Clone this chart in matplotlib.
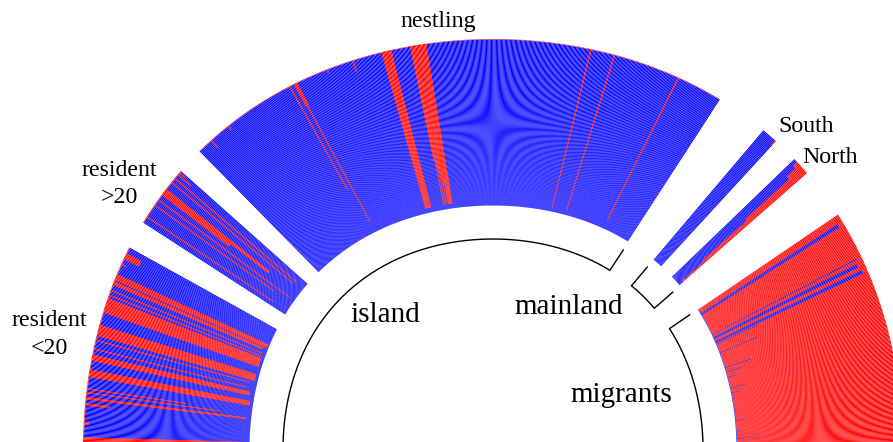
import numpy as np
import matplotlib
matplotlib.use("Agg")
import matplotlib.pyplot as plt

# bars per group, clockwise from the left
group_names = ["resident <20", "resident >20", "nestling", "South", "North", "migrants"]
group_counts = [170, 50, 438, 13, 15, 199]
group_default = [0.995, 0.995, 0.997, 1.0, 1.0, 0.005]

# share of each bar that is blue, as runs of (first bar, last bar, share)
resident_young_runs = [(10, 14, 0.0), (25, 26, 0.97), (40, 41, 0.85), (45, 46, 0.03), (50, 50, 0.2),
                       (53, 53, 0.4), (63, 68, 0.02), (76, 80, 0.03), (85, 85, 0.06), (92, 92, 0.05),
                       (96, 104, 0.02), (115, 126, 0.02), (129, 129, 0.02), (133, 133, 0.02),
                       (138, 140, 0.03), (142, 146, 0.01), (155, 155, 0.97), (160, 164, 0.9)]
resident_old_runs = [(5, 5, 0.1), (16, 16, 0.13), (21, 21, 0.03), (26, 28, 0.5), (29, 31, 0.22),
                     (38, 38, 0.07), (42, 42, 0.06), (46, 46, 0.9), (48, 48, 0.95)]
nestling_runs = [(12, 12, 0.94), (29, 29, 0.97), (86, 86, 0.3), (90, 90, 0.85), (91, 91, 0.07),
                 (92, 92, 0.85), (118, 118, 0.98), (139, 139, 0.93), (163, 170, 0.03),
                 (186, 186, 0.3), (187, 187, 0.03), (188, 188, 0.25), (189, 189, 0.03), (190, 190, 0.2),
                 (191, 191, 0.03), (192, 192, 0.15), (193, 198, 0.03),
                 (329, 329, 0.03), (348, 348, 0.03), (401, 401, 0.06)]
south_runs = [(12, 12, 0.97)]
north_runs = [(3, 5, 0.97), (6, 8, 0.9), (9, 10, 0.55), (11, 12, 0.2), (13, 14, 0.03)]
migrant_runs = [(6, 8, 0.97), (37, 37, 0.97), (41, 43, 0.96), (47, 49, 0.97), (51, 51, 0.27),
                (63, 63, 0.25), (84, 84, 0.17), (90, 90, 0.1), (97, 97, 0.05), (112, 112, 0.1),
                (118, 118, 0.05), (126, 126, 0.02), (140, 140, 0.03), (155, 155, 0.06),
                (169, 169, 0.03), (179, 179, 0.14)]
group_runs = [resident_young_runs, resident_old_runs, nestling_runs, south_runs, north_runs, migrant_runs]

# angular span of each group in degrees
group_start = [181.0, 147.1, 134.6, 49.7, 43.9, 34.2]
group_stop = [151.0, 138.3, 57.0, 47.4, 41.3, -1.0]

W, H = 893, 442
CX, CY = 493, 449
R_MAX = 440
R_IN, R_OUT = 243.5, 410.0
BLUE = "#0000ff"
RED = "#ff0000"


def bulge(theta):
    return 1 + 0.02 * np.sin(2 * theta) ** 2


fig = plt.figure(figsize=(W / 100, H / 100), dpi=100)
ax = fig.add_axes([(CX - R_MAX) / W, (H - CY - R_MAX) / H, 2 * R_MAX / W, 2 * R_MAX / H], projection="polar")
ax.set_rlim(0, R_MAX)
ax.axis("off")

for count, default, runs, start, stop in zip(group_counts, group_default, group_runs, group_start, group_stop):
    share = np.full(count, default)
    for first, last, value in runs:
        share[first:last + 1] = value
    pitch = np.radians(start - stop) / count
    theta = np.radians(start) - pitch * (np.arange(count) + 0.5)
    k = bulge(theta)
    inner = R_IN * k
    span = (R_OUT - R_IN) * k
    ax.bar(theta, span * share, width=pitch * 0.88, bottom=inner, color=BLUE, linewidth=0)
    ax.bar(theta, span * (1 - share), width=pitch * 0.88, bottom=inner + span * share, color=RED, linewidth=0)


def bracket(start, stop):
    t = np.radians(np.linspace(start, stop, 200))
    r = 210 * bulge(t)
    tt = np.r_[t[0], t, t[-1]]
    rr = np.r_[234 * bulge(t[0]), r, 234 * bulge(t[-1])]
    ax.plot(tt, rr, color="black", lw=1.0)


bracket(185, 56.8)
bracket(49.7, 41.1)
bracket(34.3, -5)

labels = [("nestling", 438, 22, 17.2), ("South", 806, 127, 17.2), ("North", 830, 157, 17.2),
          ("resident", 119, 170, 17.2), (">20", 119, 198, 17.2), ("resident", 49, 321, 17.2), ("<20", 49, 348, 17.2),
          ("island", 385, 315, 21), ("mainland", 569, 307, 21), ("migrants", 621, 395, 21)]
for text, x, y, size in labels:
    fig.text(x / W, 1 - y / H, text, ha="center", va="center", fontsize=size, family="Liberation Serif")

fig.savefig("out.png", dpi=100)
